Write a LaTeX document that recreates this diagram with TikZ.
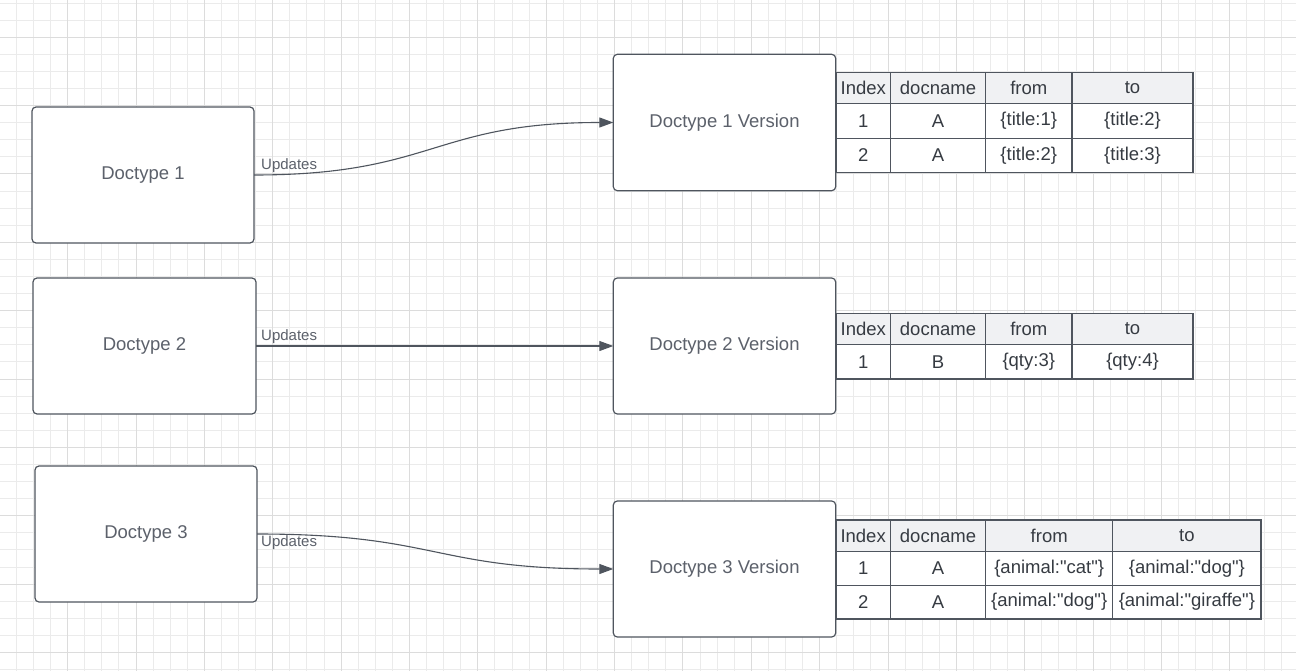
\documentclass[tikz,border=0pt]{standalone}
\usepackage{fontspec}
\setmainfont{Liberation Sans}[Ligatures=TeXOff]
\usetikzlibrary{arrows.meta}
\definecolor{stroke}{HTML}{4F555E}
\definecolor{lbl}{HTML}{5C616B}
\definecolor{tbltxt}{HTML}{363B42}
\definecolor{hdr}{HTML}{F0F1F3}
\definecolor{gminor}{HTML}{EBEBEB}
\definecolor{gmajor}{HTML}{DCDCDC}
\begin{document}
\begin{tikzpicture}[x=1pt,y=-1pt,
 box/.style={draw=stroke, line width=1.2pt, rounded corners=4pt, fill=white, anchor=north west, inner sep=0pt, outer sep=0pt, text=lbl, font=\fontsize{18.5}{22}\selectfont},
 cell/.style={draw=stroke, line width=1.1pt, anchor=north west, inner sep=0pt, outer sep=0pt, fill=white, text=tbltxt, font=\fontsize{18.5}{22}\selectfont},
 hcell/.style={cell, fill=hdr},
 conn/.style={draw=stroke, line width=1.1pt, -{Triangle[length=14pt,width=10pt]}},
 updl/.style={anchor=west, inner sep=0pt, text=lbl, font=\fontsize{15}{18}\selectfont}]
\useasboundingbox (0,0) rectangle (1296,671);
\fill[white] (0,0) rectangle (1296,671);
% grid
\foreach \i in {0,...,76}{\draw[gminor, line width=1pt] ({-0.66+17.09*\i},0) -- ({-0.66+17.09*\i},671);}
\foreach \j in {0,...,39}{\draw[gminor, line width=1pt] (0,{3.1+17.09*\j}) -- (1296,{3.1+17.09*\j});}
\foreach \i in {0,4,...,76}{\draw[gmajor, line width=1pt] ({-0.66+17.09*\i},0) -- ({-0.66+17.09*\i},671);}
\foreach \j in {2,6,...,38}{\draw[gmajor, line width=1pt] (0,{3.1+17.09*\j}) -- (1296,{3.1+17.09*\j});}

% doctype boxes
\node[box, minimum width=222pt, minimum height=136pt] (d1) at (32,107) {Doctype 1};
\node[box, minimum width=223pt, minimum height=136pt] (d2) at (33,278) {Doctype 2};
\node[box, minimum width=222pt, minimum height=136pt] (d3) at (35,466) {Doctype 3};

% version boxes
\node[box, minimum width=222.4pt, minimum height=136.4pt] (v1) at (613.3,54.3) {Doctype 1 Version};
\node[box, minimum width=222.4pt, minimum height=136pt] (v2) at (613.3,278) {Doctype 2 Version};
\node[box, minimum width=222.4pt, minimum height=136pt] (v3) at (613.3,501) {Doctype 3 Version};

% connectors
\draw[conn] (d1.east) .. controls +(180,0) and +(-180,0) .. (v1.west);
\draw[conn] (d2.east) -- (v2.west);
\draw[conn] (d3.east) .. controls +(180,0) and +(-180,0) .. (v3.west);
\node[updl] (l1) at (261,166) {Updates};
\node[updl] (l2) at (261,337) {Updates};
\node[updl] (l3) at (261,543) {Updates};

% table 1
\node[hcell, minimum width=54.5pt, minimum height=31.5pt] (t1h0) at (836,72.3) {Index};
\node[hcell, minimum width=95pt, minimum height=31.5pt] (t1h1) at (890.5,72.3) {docname};
\node[hcell, minimum width=86.5pt, minimum height=31.5pt] (t1h2) at (985.5,72.3) {from};
\node[hcell, minimum width=121pt, minimum height=31.5pt] (t1h3) at (1072,72.3) {to};
\node[cell, minimum width=54.5pt, minimum height=34.7pt] (t1a0) at (836,103.8) {1};
\node[cell, minimum width=95pt, minimum height=34.7pt] (t1a1) at (890.5,103.8) {A};
\node[cell, minimum width=86.5pt, minimum height=34.7pt] (t1a2) at (985.5,103.8) {\{title:1\}};
\node[cell, minimum width=121pt, minimum height=34.7pt] (t1a3) at (1072,103.8) {\{title:2\}};
\node[cell, minimum width=54.5pt, minimum height=33.8pt] (t1b0) at (836,138.5) {2};
\node[cell, minimum width=95pt, minimum height=33.8pt] (t1b1) at (890.5,138.5) {A};
\node[cell, minimum width=86.5pt, minimum height=33.8pt] (t1b2) at (985.5,138.5) {\{title:2\}};
\node[cell, minimum width=121pt, minimum height=33.8pt] (t1b3) at (1072,138.5) {\{title:3\}};

% table 2
\node[hcell, minimum width=54.5pt, minimum height=31pt] (t2h0) at (836,313.3) {Index};
\node[hcell, minimum width=95pt, minimum height=31pt] (t2h1) at (890.5,313.3) {docname};
\node[hcell, minimum width=86.5pt, minimum height=31pt] (t2h2) at (985.5,313.3) {from};
\node[hcell, minimum width=121pt, minimum height=31pt] (t2h3) at (1072,313.3) {to};
\node[cell, minimum width=54.5pt, minimum height=34.7pt] (t2a0) at (836,344.3) {1};
\node[cell, minimum width=95pt, minimum height=34.7pt] (t2a1) at (890.5,344.3) {B};
\node[cell, minimum width=86.5pt, minimum height=34.7pt] (t2a2) at (985.5,344.3) {\{qty:3\}};
\node[cell, minimum width=121pt, minimum height=34.7pt] (t2a3) at (1072,344.3) {\{qty:4\}};

% table 3
\node[hcell, minimum width=54.3pt, minimum height=31.7pt] (t3h0) at (836,520) {Index};
\node[hcell, minimum width=95.4pt, minimum height=31.7pt] (t3h1) at (890.3,520) {docname};
\node[hcell, minimum width=127pt, minimum height=31.7pt] (t3h2) at (985.7,520) {from};
\node[hcell, minimum width=148.3pt, minimum height=31.7pt] (t3h3) at (1112.7,520) {to};
\node[cell, minimum width=54.3pt, minimum height=33.6pt] (t3a0) at (836,551.7) {1};
\node[cell, minimum width=95.4pt, minimum height=33.6pt] (t3a1) at (890.3,551.7) {A};
\node[cell, minimum width=127pt, minimum height=33.6pt] (t3a2) at (985.7,551.7) {\{animal:"cat"\}};
\node[cell, minimum width=148.3pt, minimum height=33.6pt] (t3a3) at (1112.7,551.7) {\{animal:"dog"\}};
\node[cell, minimum width=54.3pt, minimum height=33.7pt] (t3b0) at (836,585.3) {2};
\node[cell, minimum width=95.4pt, minimum height=33.7pt] (t3b1) at (890.3,585.3) {A};
\node[cell, minimum width=127pt, minimum height=33.7pt] (t3b2) at (985.7,585.3) {\{animal:"dog"\}};
\node[cell, minimum width=148.3pt, minimum height=33.7pt] (t3b3) at (1112.7,585.3) {\{animal:"giraffe"\}};
\end{tikzpicture}
\end{document}
